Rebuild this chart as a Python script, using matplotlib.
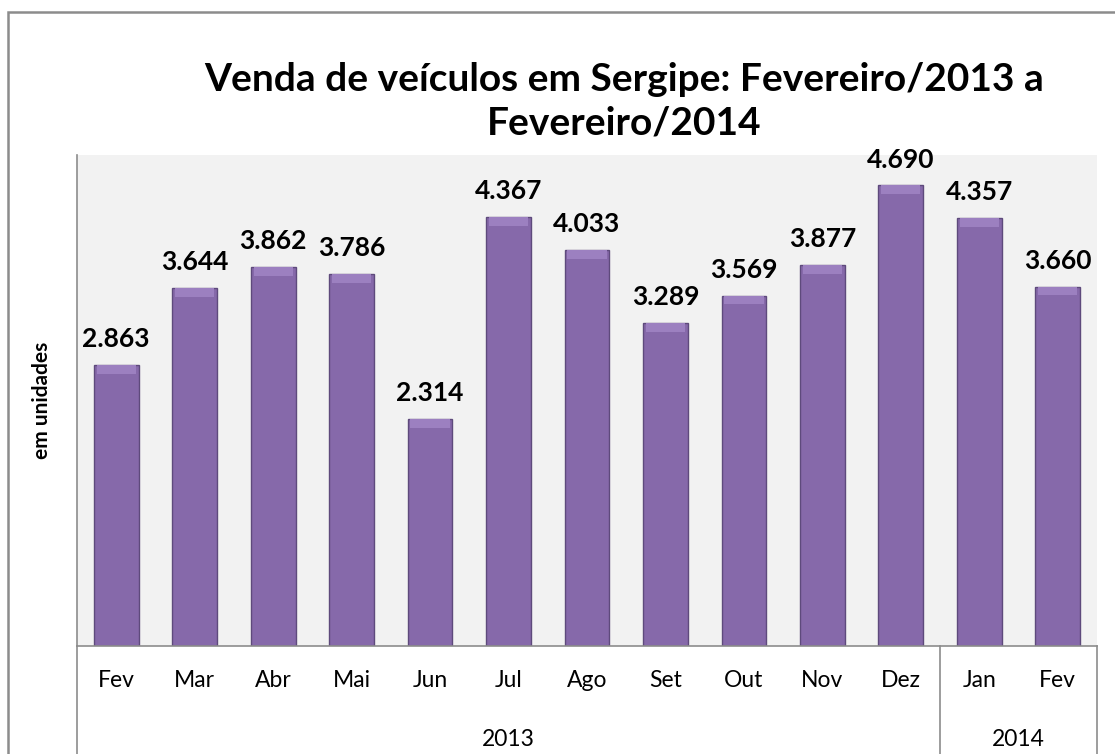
import matplotlib.pyplot as plt
import matplotlib.transforms as mtransforms
from matplotlib.patches import Rectangle

# data
months = ['Fev', 'Mar', 'Abr', 'Mai', 'Jun', 'Jul', 'Ago', 'Set', 'Out', 'Nov', 'Dez', 'Jan', 'Fev']
sales = [2863, 3644, 3862, 3786, 2314, 4367, 4033, 3289, 3569, 3877, 4690, 4357, 3660]
labels = ['2.863', '3.644', '3.862', '3.786', '2.314', '4.367', '4.033',
          '3.289', '3.569', '3.877', '4.690', '4.357', '3.660']
years = ['2013', '2014']
year_counts = [11, 2]

plt.rcParams['font.family'] = ['Lato', 'DejaVu Sans']

W, H = 1115, 754
fig = plt.figure(figsize=(W / 100, H / 100), dpi=100)

# outer chart border
fig.patches.append(Rectangle((8 / W, -0.1), 1.2, (754 - 12) / H + 0.1,
                             transform=fig.transFigure, fill=False,
                             edgecolor='#8c8c8c', linewidth=1.8))

ax = fig.add_axes([77 / W, (H - 646) / H, 1020 / W, (646 - 155) / H])
ax.set_facecolor('#f2f2f2')
x = list(range(len(months)))

ax.bar(x, sales, width=0.57, color='#8669aa', edgecolor='#5e4a7c', linewidth=1.0, zorder=2)
# bevel cap at top of each bar
cap = 90
ax.bar(x, [cap] * len(x), bottom=[v - cap for v in sales], width=0.5,
       color='#9c80c0', linewidth=0, zorder=3)

for xi, v, lab in zip(x, sales, labels):
    ax.annotate(lab, (xi, v), xytext=(0, 10), textcoords='offset points',
                ha='center', va='bottom', fontsize=19, fontweight='bold', color='black')

ax.set_xlim(-0.5, len(months) - 0.5)
ax.set_ylim(0, 5000)
ax.set_yticks([])
ax.set_xticks(x)
ax.set_xticklabels(months, fontsize=16.5)
ax.tick_params(axis='x', length=0, pad=17)
for s in ['top', 'right']:
    ax.spines[s].set_visible(False)
ax.spines['left'].set_color('#8c8c8c')
ax.spines['bottom'].set_color('#8c8c8c')
ax.spines['left'].set_linewidth(1.2)
ax.spines['bottom'].set_linewidth(1.2)

# multi-level category axis
trans = mtransforms.blended_transform_factory(ax.transData, ax.transAxes)
depth = -(754 - 646) / (646 - 155)
start = -0.5
bounds = [start]
for yr, n in zip(years, year_counts):
    end = start + n
    ax.text((start + end) / 2, -94 / (646 - 155), yr, transform=trans,
            ha='center', va='center', fontsize=16.5)
    bounds.append(end)
    start = end
for b in bounds:
    ax.plot([b, b], [0, depth], transform=trans, color='#8c8c8c', linewidth=1.2, clip_on=False)

ax.set_ylabel('em unidades', fontsize=15, fontweight='bold', labelpad=18)

fig.text(0.56, 0.866, 'Venda de veículos em Sergipe: Fevereiro/2013 a\nFevereiro/2014',
         ha='center', va='center', fontsize=28, fontweight='bold', linespacing=1.3)

fig.savefig('out.png', dpi=100)
